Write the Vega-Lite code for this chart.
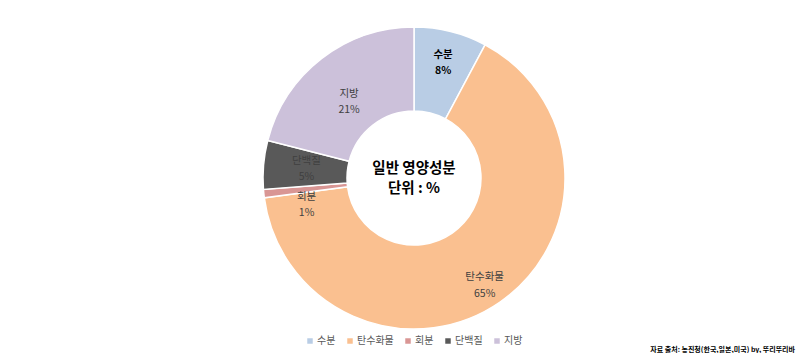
{
  "$schema": "https://vega.github.io/schema/vega-lite/v6.json",
  "width": 762,
  "height": 316,
  "padding": {"left": 33, "top": 20, "right": 8, "bottom": 0},
  "autosize": {"type": "pad"},
  "background": "white",
  "config": {
    "view": {"stroke": null},
    "font": "Noto Sans CJK KR",
    "legend": {"layout": {"bottom": {"anchor": "middle"}}}
  },
  "title": {
    "text": "자료 출처: 농진청(한국,일본,미국) by, 뚜리뚜리바",
    "orient": "bottom",
    "anchor": "end",
    "fontSize": 7,
    "fontWeight": "bold",
    "color": "#000000",
    "font": "Noto Sans CJK KR",
    "offset": 0
  },
  "data": {
    "values": [
      {"성분": "수분", "value": 7.8, "lbl": "수분\n8%", "order": 1},
      {"성분": "탄수화물", "value": 65.1, "lbl": "탄수화물\n65%", "order": 2},
      {"성분": "회분", "value": 0.9, "lbl": "회분\n1%", "order": 3},
      {"성분": "단백질", "value": 5.2, "lbl": "단백질\n5%", "order": 4},
      {"성분": "지방", "value": 21.0, "lbl": "지방\n21%", "order": 5}
    ]
  },
  "encoding": {
    "theta": {"field": "value", "type": "quantitative", "stack": true},
    "order": {"field": "order", "type": "quantitative"}
  },
  "layer": [
    {
      "mark": {"type": "arc", "innerRadius": 67, "outerRadius": 151, "stroke": "white", "strokeWidth": 1.5},
      "encoding": {
        "color": {
          "field": "성분",
          "type": "nominal",
          "sort": ["수분", "탄수화물", "회분", "단백질", "지방"],
          "scale": {
            "domain": ["수분", "탄수화물", "회분", "단백질", "지방"],
            "range": ["#b9cde5", "#fac090", "#d99694", "#595959", "#ccc1da"]
          },
          "legend": {
            "title": null,
            "orient": "bottom",
            "direction": "horizontal",
            "symbolType": "square",
            "symbolSize": 30,
            "symbolStrokeWidth": 0,
            "labelFontSize": 10,
            "labelColor": "#595959",
            "labelFont": "Noto Sans CJK KR",
            "columnPadding": 9,
            "symbolOffset": 0,
            "labelOffset": 2,
            "offset": 0
          }
        }
      }
    },
    {
      "mark": {"type": "text", "radius": 106, "fontSize": 10.5, "color": "#404040", "lineBreak": "\n", "lineHeight": 16},
      "encoding": {
        "text": {"condition": {"test": "datum['성분'] === '지방'", "field": "lbl"}, "value": ""}
      }
    },
    {
      "mark": {"type": "text", "radius": 108, "dy": -8, "fontSize": 10.5, "color": "#404040", "lineBreak": "\n", "lineHeight": 16},
      "encoding": {
        "text": {"condition": {"test": "datum['성분'] === '단백질'", "field": "lbl"}, "value": ""}
      }
    },
    {
      "mark": {"type": "text", "radius": 124, "dy": -3, "fontSize": 10.5, "color": "#404040", "lineBreak": "\n", "lineHeight": 17},
      "encoding": {
        "text": {"condition": {"test": "datum['성분'] === '탄수화물'", "field": "lbl"}, "value": ""}
      }
    },
    {
      "mark": {"type": "text", "radius": 108, "dy": 8, "fontSize": 10.5, "color": "#404040", "lineBreak": "\n", "lineHeight": 16},
      "encoding": {
        "text": {"condition": {"test": "datum['성분'] === '회분'", "field": "lbl"}, "value": ""}
      }
    },
    {
      "mark": {"type": "text", "radius": 120, "dy": -7, "fontSize": 10.5, "fontWeight": "bold", "color": "#000000", "lineBreak": "\n", "lineHeight": 16},
      "encoding": {
        "text": {"condition": {"test": "datum['성분'] === '수분'", "field": "lbl"}, "value": ""}
      }
    },
    {
      "data": {"values": [{"center": "일반 영양성분\n단위 : %"}]},
      "mark": {"type": "text", "dy": -9, "fontSize": 14.5, "fontWeight": "bold", "color": "#000000", "lineBreak": "\n", "lineHeight": 20},
      "encoding": {"text": {"field": "center"}, "theta": null, "order": null}
    }
  ]
}
